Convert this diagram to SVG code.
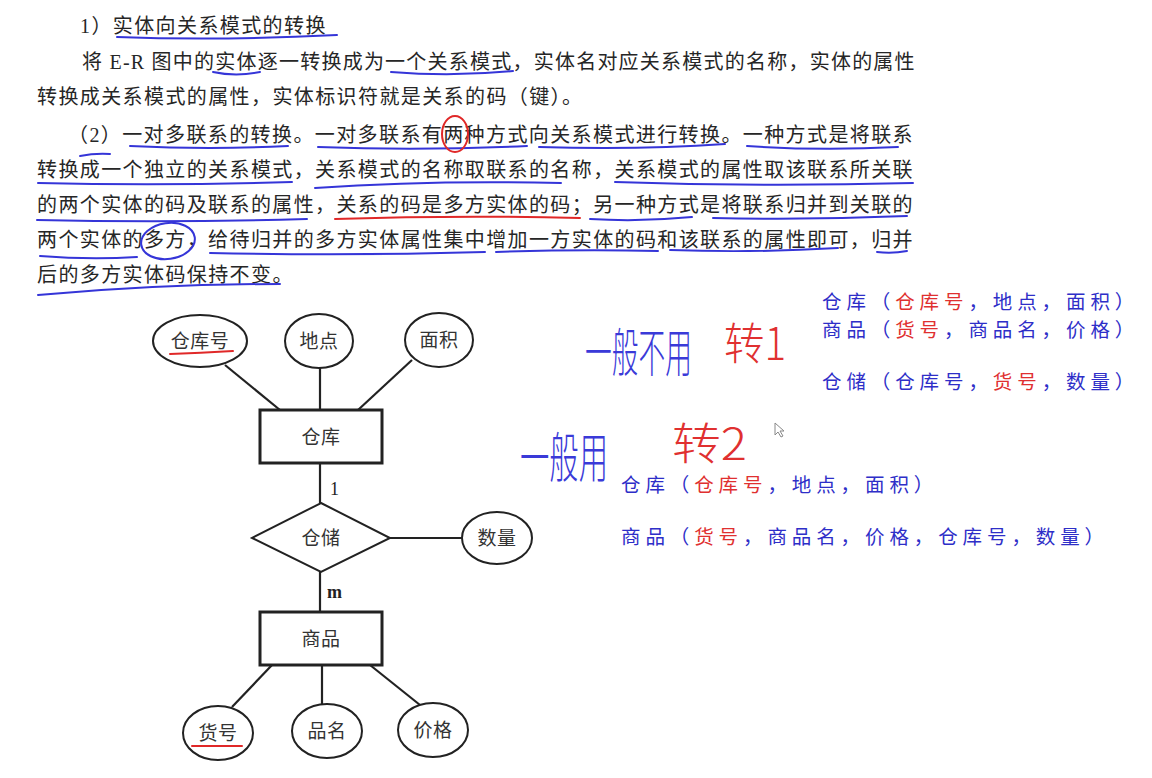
<svg xmlns="http://www.w3.org/2000/svg" width="1152" height="778" viewBox="0 0 1152 778">
<style>
.body{font-family:"Liberation Serif","Noto Sans CJK SC",serif;font-size:20px;fill:#262626;letter-spacing:1.4px}
.er{font-family:"Noto Sans CJK SC",sans-serif;font-size:19px;fill:#333;text-anchor:middle;letter-spacing:0.5px}
.card{font-family:"Liberation Serif",serif;font-size:18px;fill:#222}
.shape{fill:#fff;stroke:#222;stroke-width:2}
.ent{fill:#fff;stroke:#222;stroke-width:3}
.conn line{stroke:#222;stroke-width:2.2}
.rel{font-family:"Noto Sans CJK SC",sans-serif;font-size:19.5px;fill:#2e2ec8;letter-spacing:4.9px}
.red{fill:#e03030}
.hand{font-family:"Noto Sans CJK SC",sans-serif;font-weight:300}
.ub{fill:none;stroke:#3535d8;stroke-width:2;stroke-linecap:round}
.ur{fill:none;stroke:#e02828;stroke-width:2;stroke-linecap:round}
</style>
<rect width="1152" height="778" fill="#fff"/>

<g id="paragraph">
<text class="body" x="80" y="33">1）实体向关系模式的转换</text>
<text class="body" x="82" y="69" textLength="834" lengthAdjust="spacing">将 E-R 图中的实体逐一转换成为一个关系模式，实体名对应关系模式的名称，实体的属性</text>
<text class="body" x="37" y="104">转换成关系模式的属性，实体标识符就是关系的码（键）。</text>
<text class="body" x="68" y="142" textLength="846" lengthAdjust="spacing">（2）一对多联系的转换。一对多联系有两种方式向关系模式进行转换。一种方式是将联系</text>
<text class="body" x="37" y="177" textLength="877" lengthAdjust="spacing">转换成一个独立的关系模式，关系模式的名称取联系的名称，关系模式的属性取该联系所关联</text>
<text class="body" x="37" y="212" textLength="877" lengthAdjust="spacing">的两个实体的码及联系的属性，关系的码是多方实体的码；另一种方式是将联系归并到关联的</text>
<text class="body" x="37" y="247" textLength="877" lengthAdjust="spacing">两个实体的多方，给待归并的多方实体属性集中增加一方实体的码和该联系的属性即可，归并</text>
<text class="body" x="37" y="282">后的多方实体码保持不变。</text>
</g>

<g id="annotations">
<path class="ub" d="M117,37 Q220,41 337,35"/>
<path class="ub" d="M213,72 Q236,77 260,72"/>
<path class="ub" d="M391,72 Q452,77 513,71"/>
<path class="ub" d="M130,146 Q210,150 288,146"/>
<path class="ub" d="M318,147 Q420,151 527,146"/>
<path class="ub" d="M539,147 Q640,150 725,144"/>
<path class="ub" d="M747,146 Q820,151 898,147"/>
<ellipse class="ur" cx="455" cy="134" rx="13" ry="18"/>
<path class="ub" d="M80,156 Q95,153 110,154"/>
<path class="ub" d="M38,183 Q165,186 292,182"/>
<path class="ub" d="M315,188 Q430,180 561,183"/>
<path class="ub" d="M615,182 Q760,187 913,183"/>
<path class="ub" d="M37,220 Q170,223 307,219"/>
<path class="ur" d="M335,219 Q460,215 580,218"/>
<path class="ub" d="M590,219 Q640,222 692,217"/>
<path class="ub" d="M713,218 Q810,220 907,216"/>
<path class="ub" d="M40,256 Q90,260 137,257"/>
<ellipse class="ub" cx="168" cy="241" rx="27" ry="18" transform="rotate(-8 168 241)"/>
<path class="ub" d="M210,253 Q350,256 485,252"/>
<path class="ub" d="M496,252 Q580,249 658,251"/>
<path class="ub" d="M670,250 Q755,253 838,248"/>
<path class="ub" d="M877,252 Q892,254 907,251"/>
<path class="ub" d="M38,295 Q160,284 280,284"/>
</g>

<g class="conn" id="connectors">
<line x1="225" y1="365" x2="280" y2="410"/>
<line x1="320" y1="368" x2="320" y2="410"/>
<line x1="412" y1="360" x2="358" y2="410"/>
<line x1="320" y1="463" x2="320" y2="503"/>
<line x1="390" y1="538" x2="462" y2="538"/>
<line x1="320" y1="572" x2="320" y2="612"/>
<line x1="272" y1="665" x2="232" y2="707"/>
<line x1="322" y1="665" x2="322" y2="705"/>
<line x1="370" y1="665" x2="420" y2="705"/>
<text class="card" x="330" y="495">1</text>
<text class="card" x="327" y="598" font-weight="bold">m</text>
</g>

<g id="attr-warehouse-no">
<ellipse class="shape" cx="200" cy="341" rx="47" ry="26"/>
<text class="er" x="200" y="348">仓库号</text>
<path class="ur" d="M170,354 Q200,353 233,351"/>
</g>
<g id="attr-location">
<ellipse class="shape" cx="319" cy="341" rx="34" ry="27"/>
<text class="er" x="319" y="348">地点</text>
</g>
<g id="attr-area">
<ellipse class="shape" cx="439" cy="340" rx="34" ry="27"/>
<text class="er" x="439" y="347">面积</text>
</g>
<g id="entity-warehouse">
<rect class="ent" x="260" y="410" width="122" height="53"/>
<text class="er" x="321" y="444">仓库</text>
</g>
<g id="rel-storage">
<polygon class="shape" points="321,503 390,538 321,572 252,538"/>
<text class="er" x="321" y="545">仓储</text>
</g>
<g id="attr-quantity">
<ellipse class="shape" cx="497" cy="538" rx="35" ry="26"/>
<text class="er" x="497" y="545">数量</text>
</g>
<g id="entity-goods">
<rect class="ent" x="260" y="612" width="122" height="53"/>
<text class="er" x="321" y="646">商品</text>
</g>
<g id="attr-goods-no">
<ellipse class="shape" cx="218" cy="733" rx="35" ry="27"/>
<text class="er" x="218" y="740">货号</text>
<path class="ur" d="M192,746 L242,746"/>
</g>
<g id="attr-name">
<ellipse class="shape" cx="327" cy="731" rx="35" ry="27"/>
<text class="er" x="327" y="738">品名</text>
</g>
<g id="attr-price">
<ellipse class="shape" cx="433" cy="730" rx="35" ry="27"/>
<text class="er" x="433" y="737">价格</text>
</g>

<g id="schema-1">
<text class="rel" x="822" y="309">仓库（<tspan class="red">仓库号</tspan>，地点，面积）</text>
<text class="rel" x="822" y="337">商品（<tspan class="red">货号</tspan>，商品名，价格）</text>
<text class="rel" x="822" y="389">仓储（仓库号，<tspan class="red">货号</tspan>，数量）</text>
</g>
<g id="schema-2">
<text class="rel" x="621" y="492">仓库（<tspan class="red">仓库号</tspan>，地点，面积）</text>
<text class="rel" x="621" y="544">商品（<tspan class="red">货号</tspan>，商品名，价格，仓库号，数量）</text>
</g>

<g id="handwriting">
<text class="hand" transform="translate(585,372) scale(1,1.5)" font-size="35" fill="#3a3ad8" textLength="107" lengthAdjust="spacingAndGlyphs">一般不用</text>
<text class="hand" transform="translate(724,360) scale(1,1.4)" font-size="32" fill="#e03030" textLength="62" lengthAdjust="spacingAndGlyphs">转1</text>
<text class="hand" transform="translate(520,478) scale(1,1.5)" font-size="36" fill="#3a3ad8" textLength="88" lengthAdjust="spacingAndGlyphs">一般用</text>
<text class="hand" transform="translate(672,460) scale(1,1.3)" font-size="34" fill="#e03030" textLength="75" lengthAdjust="spacingAndGlyphs">转2</text>
<path d="M775,423 L775,435 L778,432 L781,437 L783,436 L780,431 L784,431 Z" fill="#fff" stroke="#888" stroke-width="1"/>
</g>
</svg>
